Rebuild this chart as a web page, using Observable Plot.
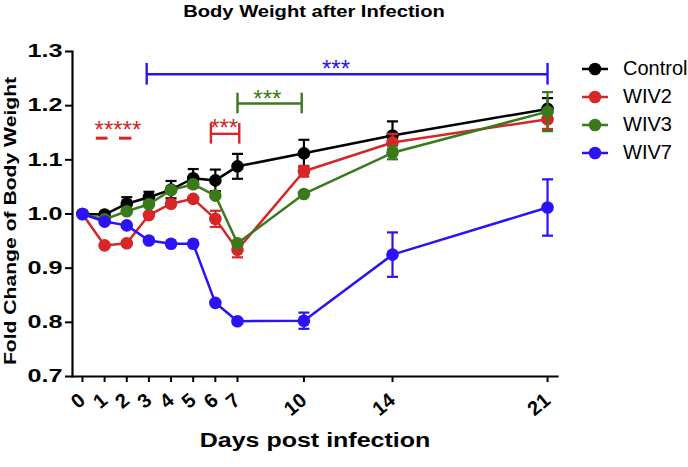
<!DOCTYPE html>
<html><head><meta charset="utf-8">
<script src="https://cdn.jsdelivr.net/npm/d3@7"></script>
<script src="https://cdn.jsdelivr.net/npm/@observablehq/plot@0.6"></script>
<style>
body{margin:0;background:#fff;font-family:"Liberation Sans",Arial,sans-serif;color:#000;}
#wrap{position:relative;width:688px;height:467px;overflow:hidden;}
.lbl{position:absolute;white-space:nowrap;font-weight:bold;line-height:1;}
.leg{position:absolute;left:582px;height:20px;display:flex;align-items:center;font-size:20px;}
.leg span{margin-left:15px;}
</style></head><body><div id="wrap"></div>
<script>
const days = [0, 1, 2, 3, 4, 5, 6, 7, 10, 14, 21];
const groups = ["Control", "WIV2", "WIV3", "WIV7"];
const colors = ["#000000", "#d62628", "#3a7a1b", "#2b12f7"];
const controlMean = [1.000, 0.999, 1.019, 1.031, 1.045, 1.066, 1.062, 1.088, 1.112, 1.145, 1.194];
const controlErr  = [0, 0.004, 0.012, 0.010, 0.016, 0.017, 0.020, 0.023, 0.025, 0.026, 0.020];
const wiv2Mean = [1.000, 0.942, 0.946, 0.998, 1.019, 1.028, 0.991, 0.934, 1.079, 1.132, 1.175];
const wiv2Err  = [0, 0, 0, 0, 0, 0, 0.015, 0.014, 0.010, 0.016, 0.018];
const wiv3Mean = [1.000, 0.990, 1.005, 1.018, 1.044, 1.055, 1.034, 0.946, 1.037, 1.113, 1.189];
const wiv3Err  = [0, 0, 0, 0, 0, 0, 0, 0, 0, 0.012, 0.036];
const wiv7Mean = [1.000, 0.986, 0.979, 0.951, 0.945, 0.945, 0.836, 0.802, 0.803, 0.925, 1.012];
const wiv7Err  = [0, 0, 0, 0, 0, 0, 0, 0, 0.015, 0.041, 0.052];
const yTicks = [0.7, 0.8, 0.9, 1.0, 1.1, 1.2, 1.3];

// significance annotations
const bracketColor = ["#2b12f7", "#3a7a1b", "#d62628"];
const bracketStart = [2.9, 7.0, 5.8];
const bracketEnd   = [21, 9.9, 7.08];
const bracketY     = [1.258, 1.204, 1.148];
const bracketHalf  = [0.020, 0.019, 0.019];
const starText  = ["***", "***", "***", "*****"];
const starColor = ["#2b12f7", "#3a7a1b", "#d62628", "#d62628"];
const starX     = [11.45, 8.35, 6.4, 1.6];
const starY     = [1.277, 1.221, 1.167, 1.163];
const dashStart = [0.6, 1.65];
const dashEnd   = [1.13, 2.21];
const dashY     = [1.14, 1.14];

const means = [controlMean, wiv2Mean, wiv3Mean, wiv7Mean];
const errs = [controlErr, wiv2Err, wiv3Err, wiv7Err];

const capSymbol = {draw(ctx, size) { const w = Math.sqrt(size / Math.PI); ctx.moveTo(-w, 0); ctx.lineTo(w, 0); }};

const seriesMarks = [];
groups.forEach((g, i) => {
  const rows = days.map((d, j) => ({group: g, day: d, mean: means[i][j], err: errs[i][j]}));
  const eb = rows.filter(r => r.err > 0);
  const caps = eb.flatMap(r => [{day: r.day, v: r.mean + r.err}, {day: r.day, v: r.mean - r.err}]);
  seriesMarks.push(
    Plot.line(rows, {x: "day", y: "mean", stroke: colors[i], strokeWidth: 2.5}),
    Plot.ruleX(eb, {x: "day", y1: r => r.mean - r.err, y2: r => r.mean + r.err, stroke: colors[i], strokeWidth: 2.2}),
    Plot.dot(caps, {x: "day", y: "v", symbol: capSymbol, r: 5.5, stroke: colors[i], strokeWidth: 2.2, fill: "none"}),
    Plot.dot(rows, {x: "day", y: "mean", r: 6.3, fill: colors[i], stroke: "none"})
  );
});

const brackets = bracketY.map((y, k) => ({x1: bracketStart[k], x2: bracketEnd[k], y, h: bracketHalf[k], c: bracketColor[k]}));
const bracketEnds = brackets.flatMap(b => [{x: b.x1, y1: b.y - b.h, y2: b.y + b.h, c: b.c}, {x: b.x2, y1: b.y - b.h, y2: b.y + b.h, c: b.c}]);
const stars = starText.map((t, k) => ({t, x: starX[k], y: starY[k], c: starColor[k]}));
const dashes = dashStart.map((s, k) => ({x1: s, x2: dashEnd[k], y: dashY[k]}));

const chart = Plot.plot({
  width: 688, height: 467,
  marginTop: 51, marginLeft: 72, marginRight: 131, marginBottom: 91,
  x: {domain: [-0.45, 21.45]},
  y: {domain: [0.7, 1.3]},
  style: {fontFamily: "Liberation Sans, Arial, sans-serif", color: "#000", background: "transparent", overflow: "visible"},
  marks: [
    Plot.axisY({ticks: yTicks, tickFormat: d3.format(".1f"), tickSize: 7, tickPadding: 3, fontSize: 18, fontWeight: "bold", strokeWidth: 2, label: null}),
    Plot.axisX({ticks: days, tickFormat: d => String(d), tickSize: 6, tickPadding: 15, tickRotate: -40, fontSize: 20, fontWeight: "bold", strokeWidth: 2, label: null}),
    Plot.frame({anchor: "left", strokeWidth: 2.2}),
    Plot.frame({anchor: "bottom", strokeWidth: 2.2}),
    Plot.link(brackets, {x1: "x1", x2: "x2", y1: "y", y2: "y", stroke: d => d.c, strokeWidth: 2.4}),
    Plot.ruleX(bracketEnds, {x: "x", y1: "y1", y2: "y2", stroke: d => d.c, strokeWidth: 2.4}),
    Plot.link(dashes, {x1: "x1", x2: "x2", y1: "y", y2: "y", stroke: "#d62628", strokeWidth: 3}),
    Plot.text(stars, {x: "x", y: "y", text: "t", fill: d => d.c, fontSize: 24, dy: 5}),
    ...seriesMarks
  ]
});
chart.style.position = "absolute";
chart.style.left = "0px";
chart.style.top = "0px";
const wrap = document.getElementById("wrap");
wrap.appendChild(chart);

// stretch y tick labels horizontally like the reference
chart.querySelectorAll('g[aria-label="y-axis tick label"] text').forEach(t => {
  const L = t.getComputedTextLength();
  t.setAttribute("textLength", (L * 1.4).toFixed(1));
  t.setAttribute("lengthAdjust", "spacingAndGlyphs");
});

function addLabel(text, cx, cy, size, transform) {
  const d = document.createElement("div");
  d.className = "lbl";
  d.textContent = text;
  d.style.fontSize = size + "px";
  d.style.left = cx + "px";
  d.style.top = cy + "px";
  d.style.transform = "translate(-50%,-50%) " + transform;
  wrap.appendChild(d);
}
addLabel("Body Weight after Infection", 314, 12, 16, "scaleX(1.26)");
addLabel("Days post infection", 315, 440, 20, "scaleX(1.25)");
addLabel("Fold Change of Body Weight", 11, 221, 16, "rotate(-90deg) scaleX(1.32)");

groups.forEach((g, i) => {
  const row = document.createElement("div");
  row.className = "leg";
  row.style.top = (68.5 + 28 * i - 10) + "px";
  row.innerHTML = `<svg width="26" height="20"><line x1="0" x2="26" y1="10" y2="10" stroke="${colors[i]}" stroke-width="2.5"/><circle cx="13" cy="10" r="6.3" fill="${colors[i]}"/></svg><span>${g}</span>`;
  wrap.appendChild(row);
});
</script></body></html>
